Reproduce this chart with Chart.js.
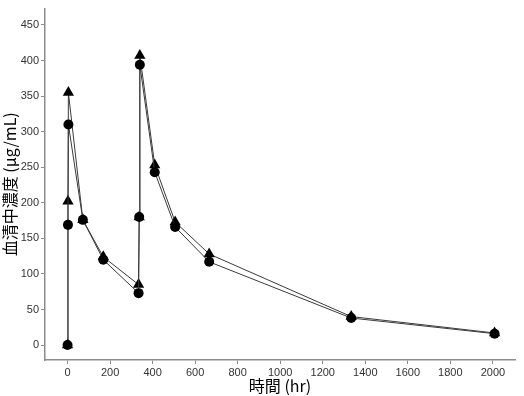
<!DOCTYPE html>
<html>
<head>
<meta charset="utf-8">
<script src="https://cdn.jsdelivr.net/npm/chart.js@4/dist/chart.umd.min.js"></script>
<style>
  html, body { margin: 0; padding: 0; background: #fff; }
  #wrap { width: 524px; height: 396px; }
</style>
</head>
<body>
<div id="wrap"><canvas id="pkChart"></canvas></div>
<script>
// sampling times (hr) and serum concentrations (μg/mL)
const circleHours = [0, 2, 4, 72, 168, 334, 337, 340, 410, 506, 666, 1334, 2008];
const circleConc = [0, 169, 310, 176, 120, 73, 180, 394, 243, 166, 117, 38, 16];
const triangleHours = [0, 2, 4, 72, 168, 334, 337, 340, 410, 506, 666, 1334, 2008];
const triangleConc = [0, 202, 355, 176, 124, 85, 180, 407, 253, 173, 128, 40, 17];
const xTicks = [0, 200, 400, 600, 800, 1000, 1200, 1400, 1600, 1800, 2000];
const yTicks = [0, 50, 100, 150, 200, 250, 300, 350, 400, 450];

const toPoints = (xs, ys) => xs.map((x, i) => ({ x: x, y: ys[i] }));

const axisGray = '#8c8c8c';
const tickFont = { family: '"Liberation Sans", Arial, sans-serif', size: 11 };
const titleFont = { family: '"Noto Sans CJK JP", "Noto Sans", sans-serif', size: 16 };

new Chart(document.getElementById('pkChart'), {
  type: 'scatter',
  data: {
    datasets: [
      {
        label: 'circle',
        data: toPoints(circleHours, circleConc),
        showLine: true,
        borderColor: '#3a3a3a',
        borderWidth: 1,
        pointStyle: 'circle',
        pointRadius: 5,
        pointBackgroundColor: '#000',
        pointBorderColor: '#000',
        pointBorderWidth: 0
      },
      {
        label: 'triangle',
        data: toPoints(triangleHours, triangleConc),
        showLine: true,
        borderColor: '#3a3a3a',
        borderWidth: 1,
        pointStyle: 'triangle',
        pointRadius: 6.5,
        pointBackgroundColor: '#000',
        pointBorderColor: '#000',
        pointBorderWidth: 0
      }
    ]
  },
  options: {
    responsive: true,
    maintainAspectRatio: false,
    animation: false,
    layout: { padding: { top: 4, right: 9, left: 0, bottom: 0 } },
    plugins: {
      legend: { display: false },
      tooltip: { enabled: false }
    },
    scales: {
      x: {
        type: 'linear',
        min: -106,
        max: 2104,
        afterBuildTicks: axis => { axis.ticks = xTicks.map(v => ({ value: v })); },
        afterFit: axis => { axis.height = 36; },
        ticks: {
          color: '#333',
          font: tickFont,
          padding: 2,
          maxRotation: 0,
          callback: v => String(v)
        },
        grid: { drawOnChartArea: false, drawTicks: true, tickLength: 4, color: axisGray },
        border: { color: axisGray, width: 1.5 },
        title: {
          display: true,
          text: '時間 (hr)',
          color: '#000',
          font: titleFont,
          padding: { top: 0, bottom: 0 }
        }
      },
      y: {
        type: 'linear',
        min: -21,
        max: 473,
        afterBuildTicks: axis => { axis.ticks = yTicks.map(v => ({ value: v })); },
        afterFit: axis => { axis.width = 45; },
        ticks: {
          color: '#333',
          font: tickFont,
          padding: 2,
          callback: v => String(v)
        },
        grid: { drawOnChartArea: false, drawTicks: true, tickLength: 4, color: axisGray },
        border: { color: axisGray, width: 1.5 },
        title: {
          display: true,
          text: '血清中濃度 (μg/mL)',
          color: '#000',
          font: titleFont,
          padding: { top: 0, bottom: 2 }
        }
      }
    }
  }
});
</script>
</body>
</html>
